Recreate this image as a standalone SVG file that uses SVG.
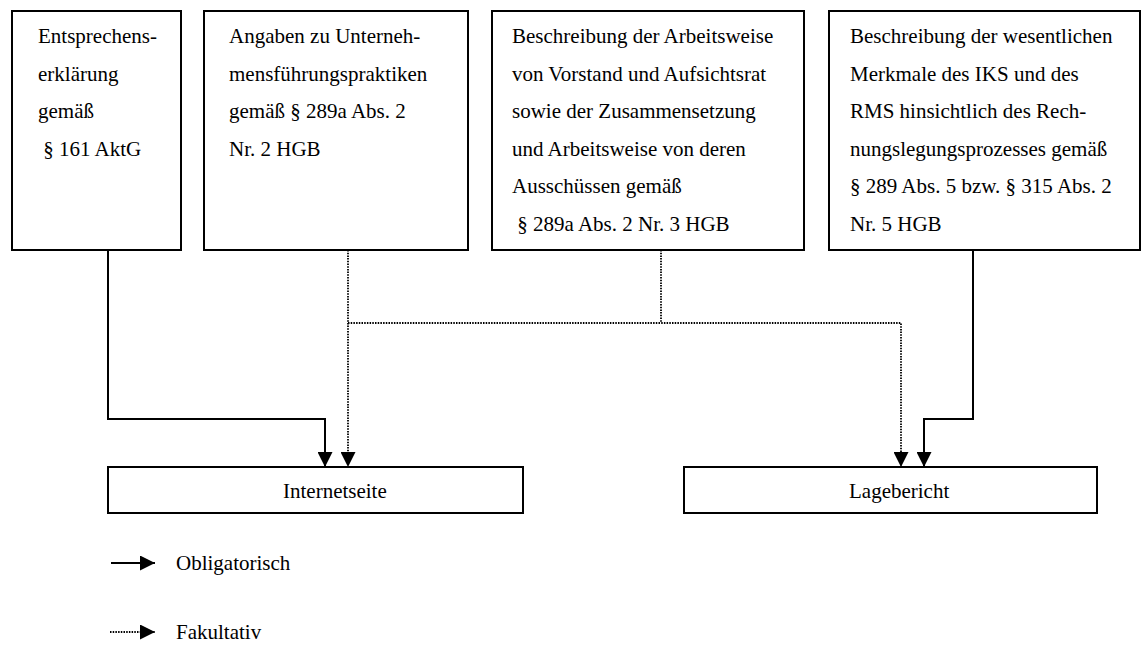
<svg xmlns="http://www.w3.org/2000/svg" width="1144" height="645" viewBox="0 0 1144 645">
<style>
.box{fill:#fff;stroke:#000;stroke-width:2}
.t{font-family:'Liberation Serif','Times New Roman',serif;font-size:21px;fill:#000}
.solid{fill:none;stroke:#000;stroke-width:2}
.dot{fill:none;stroke:#000;stroke-width:1.8;stroke-dasharray:1.5 1.2}
</style>
<defs>
<marker id="arr" viewBox="0 0 10 10" refX="10" refY="5" markerWidth="15" markerHeight="15" markerUnits="userSpaceOnUse" orient="auto">
<path d="M0,0 L10,5 L0,10 z" fill="#000"/>
</marker>
</defs>
<rect width="1144" height="645" fill="#fff"/>
<g id="connectors">
<path class="solid" d="M108,250 V419 H325 V467" marker-end="url(#arr)"/>
<path class="dot" d="M348,250 V467" marker-end="url(#arr)"/>
<path class="dot" d="M661,250 V323"/>
<path class="dot" d="M348,323 H901 V467" marker-end="url(#arr)"/>
<path class="solid" d="M973,250 V419 H924 V467" marker-end="url(#arr)"/>
</g>
<g id="n1">
<rect class="box" x="12" y="11" width="169" height="239"/>
<text class="t" x="38" y="43">Entsprechens-</text>
<text class="t" x="38" y="80.5">erklärung</text>
<text class="t" x="38" y="118">gemäß</text>
<text class="t" x="38" y="155.5" xml:space="preserve"> § 161 AktG</text>
</g>
<g id="n2">
<rect class="box" x="204" y="11" width="264" height="239"/>
<text class="t" x="229" y="43">Angaben zu Unterneh-</text>
<text class="t" x="229" y="80.5">mensführungspraktiken</text>
<text class="t" x="229" y="118">gemäß § 289a Abs. 2</text>
<text class="t" x="229" y="155.5">Nr. 2 HGB</text>
</g>
<g id="n3">
<rect class="box" x="492" y="11" width="312" height="239"/>
<text class="t" x="512" y="43">Beschreibung der Arbeitsweise</text>
<text class="t" x="512" y="80.5">von Vorstand und Aufsichtsrat</text>
<text class="t" x="512" y="118">sowie der Zusammensetzung</text>
<text class="t" x="512" y="155.5">und Arbeitsweise von deren</text>
<text class="t" x="512" y="193">Ausschüssen gemäß</text>
<text class="t" x="512" y="230.5" xml:space="preserve"> § 289a Abs. 2 Nr. 3 HGB</text>
</g>
<g id="n4">
<rect class="box" x="829" y="11" width="311" height="239"/>
<text class="t" x="850" y="43">Beschreibung der wesentlichen</text>
<text class="t" x="850" y="80.5">Merkmale des IKS und des</text>
<text class="t" x="850" y="118">RMS hinsichtlich des Rech-</text>
<text class="t" x="850" y="155.5">nungslegungsprozesses gemäß</text>
<text class="t" x="850" y="193">§ 289 Abs. 5 bzw. § 315 Abs. 2</text>
<text class="t" x="850" y="230.5">Nr. 5 HGB</text>
</g>
<g id="internetseite">
<rect class="box" x="108" y="467" width="415" height="46"/>
<text class="t" x="283" y="498">Internetseite</text>
</g>
<g id="lagebericht">
<rect class="box" x="684" y="467" width="413" height="46"/>
<text class="t" x="849" y="498">Lagebericht</text>
</g>
<g id="legend">
<path class="solid" d="M111,563 H155" marker-end="url(#arr)"/>
<text class="t" x="176" y="570">Obligatorisch</text>
<path class="dot" d="M110,632 H155" marker-end="url(#arr)"/>
<text class="t" x="176" y="639">Fakultativ</text>
</g>
</svg>
